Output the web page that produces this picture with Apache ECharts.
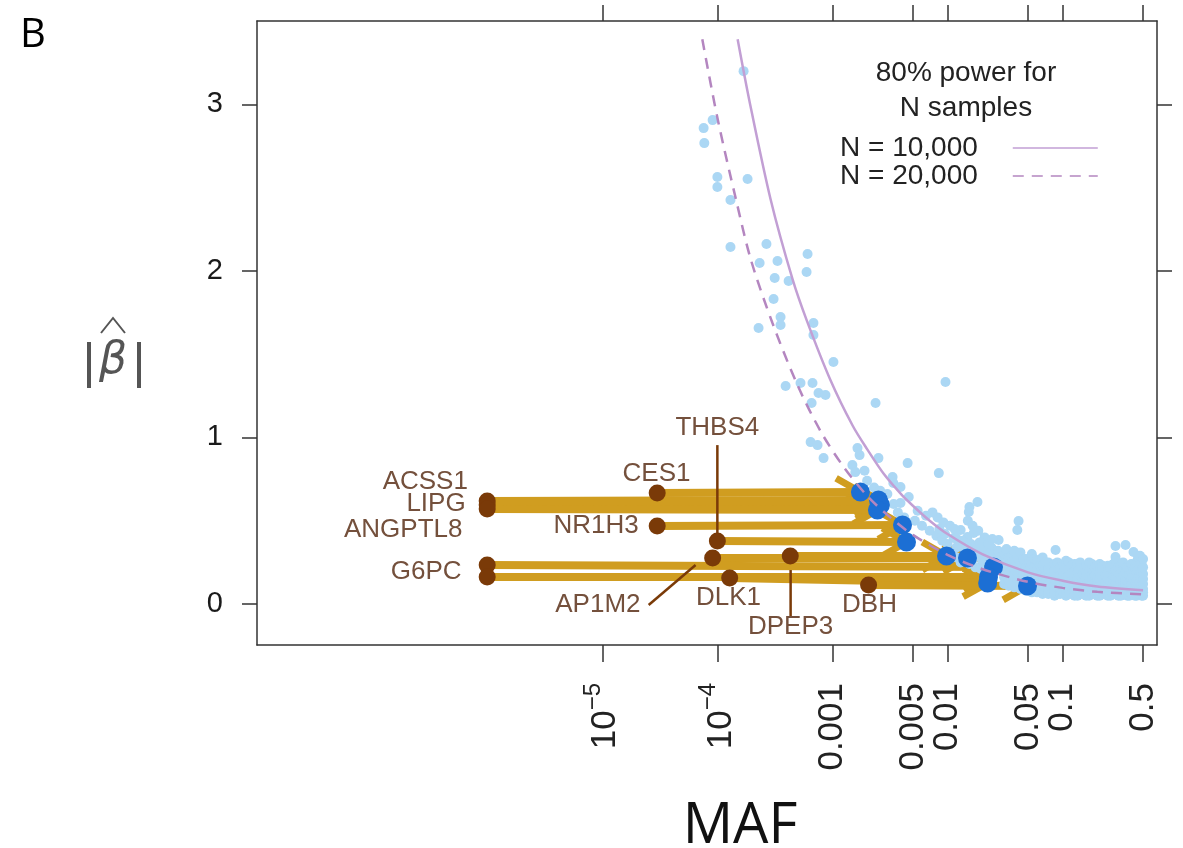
<!DOCTYPE html>
<html><head><meta charset="utf-8">
<script src="https://cdn.jsdelivr.net/npm/echarts@6/dist/echarts.min.js"></script>
<style>html,body{margin:0;padding:0;background:#fff}#c{width:1183px;height:848px}</style>
</head><body><div id="c"></div>
<script>
// ---------- axis ticks ----------
const xTickValues = [1e-5, 1e-4, 0.001, 0.005, 0.01, 0.05, 0.1, 0.5];
const xTickLabels = ['10^-5', '10^-4', '0.001', '0.005', '0.01', '0.05', '0.1', '0.5'];
const yTickValues = [0, 1, 2, 3];

// ---------- gene variants (start = brown, end = blue) ----------
const variantGene = ['CES1','ACSS1','LIPG','ANGPTL8','NR1H3','THBS4','AP1M2','DPEP3','G6PC','G6PC','DLK1','DBH'];
const startMAF  = [3.0e-5, 1e-6, 1e-6, 1e-6, 3.0e-5, 1.0e-4, 9.1e-5, 4.3e-4, 1e-6, 1e-6, 1.28e-4, 2.06e-3];
const startBeta = [0.666, 0.618, 0.594, 0.570, 0.468, 0.378, 0.276, 0.288, 0.234, 0.162, 0.156, 0.114];
const endMAF    = [1.75e-3, 2.51e-3, 2.61e-3, 2.46e-3, 4.06e-3, 4.4e-3, 0.0149, 9.8e-3, 0.0251, 0.0227, 0.0223, 0.0495];
const endBeta   = [0.672, 0.624, 0.594, 0.564, 0.474, 0.372, 0.276, 0.288, 0.222, 0.162, 0.126, 0.108];

// ---------- gene labels (anchor in data units) ----------
const labelText  = ['ACSS1','LIPG','ANGPTL8','G6PC','CES1','NR1H3','THBS4','AP1M2','DLK1','DPEP3','DBH'];
const labelMAF   = [6.8e-7, 6.5e-7, 6.1e-7, 6.0e-7, 2.96e-5, 2.07e-5, 1.0e-4, 2.15e-5, 1.25e-4, 4.33e-4, 2.1e-3];
const labelBeta  = [0.732, 0.600, 0.444, 0.192, 0.780, 0.468, 1.056, -0.006, 0.036, -0.138, -0.006];
const labelAlign = ['right','right','right','right','center','right','center','right','center','center','center'];

// ---------- leader lines [maf0, beta0, maf1, beta1] ----------
const leaderLines = [
  [1.0e-4, 0.954, 1.0e-4, 0.378],   // THBS4
  [4.33e-4, 0.204, 4.33e-4, -0.078], // DPEP3
  [2.53e-5, -0.006, 6.47e-5, 0.234]  // AP1M2
];

// ---------- 80% power curves ----------
const solidCurveMAF  = [1.5e-4, 1.9e-4, 2.9e-4, 4.5e-4, 6e-4, 9.6e-4, 1.5e-3, 2e-3, 2.8e-3, 4e-3, 5e-3, 7e-3, 0.01, 0.02, 0.05, 0.1, 0.2, 0.5];
const solidCurveBeta = [3.39, 3.02, 2.43, 1.95, 1.70, 1.345, 1.07, 0.93, 0.78, 0.655, 0.59, 0.50, 0.42, 0.30, 0.19, 0.14, 0.105, 0.083];
const dashedCurveMAF  = [7.4e-5, 1e-4, 1.45e-4, 1.95e-4, 3e-4, 5e-4, 8e-4, 1.26e-3, 2e-3, 3e-3, 5e-3, 0.01, 0.02, 0.05, 0.1, 0.2, 0.5];
const dashedCurveBeta = [3.39, 2.92, 2.43, 2.07, 1.69, 1.31, 1.03, 0.82, 0.65, 0.535, 0.415, 0.295, 0.21, 0.133, 0.097, 0.073, 0.058];

// ---------- background variants (light blue) ----------
const scatteredPoints = [
  [7.6e-5,2.857],[9.1e-5,2.905],[7.7e-5,2.767],[1.0e-4,2.563],[1.0e-4,2.503],[1.3e-4,2.425],[1.83e-4,2.551],
  [1.3e-4,2.143],[1.69e-4,3.199],[2.67e-4,2.161],[2.33e-4,2.047],[3.33e-4,2.059],[3.15e-4,1.957],[4.16e-4,1.939],
  [6.08e-4,2.101],[5.96e-4,1.993],[3.08e-4,1.831],[3.54e-4,1.723],[3.54e-4,1.675],[2.28e-4,1.657],[6.84e-4,1.687],
  [6.84e-4,1.615],[1.02e-3,1.453],[3.92e-4,1.309],[5.28e-4,1.327],[6.71e-4,1.327],[7.57e-4,1.267],[8.7e-4,1.255],
  [6.59e-4,1.207],[2.37e-3,1.207],[9.6e-3,1.333],[6.46e-4,0.972],[7.42e-4,0.954],[8.37e-4,0.876],[1.65e-3,0.936],
  [1.72e-3,0.894],[2.51e-3,0.876],[4.5e-3,0.846],[1.49e-3,0.834],[1.58e-3,0.792],[3.33e-3,0.762],[8.4e-3,0.786],
  [3.38e-3,0.726],[3.9e-3,0.702],[4.6e-3,0.642],[3.9e-3,0.606],[0.0182,0.612],[0.0155,0.582],[0.0153,0.552],
  [0.0414,0.498],[0.0404,0.444],[0.0278,0.384],[0.013,0.444],[0.0149,0.402],[0.0169,0.426],[0.0113,0.396],
  [0.0868,0.324],[0.288,0.348],[0.352,0.354],[0.413,0.312],[0.448,0.264],[0.288,0.282],
  [2.0e-3,0.74],[2.3e-3,0.70],[1.9e-3,0.80],[2.6e-3,0.68],[3.0e-3,0.66],[3.4e-3,0.60],[3.7e-3,0.55],[4.2e-3,0.52],
  [5.2e-3,0.50],[6.0e-3,0.47],[7.0e-3,0.44],[8.0e-3,0.41],[5.5e-3,0.56],[6.5e-3,0.53],[9.0e-3,0.38],[0.010,0.36],
  [0.0085,0.45],[0.012,0.34],[0.011,0.31],
  [0.0095,0.42],[0.0105,0.47],[0.0118,0.40],[0.0125,0.36],[0.0135,0.38],[0.014,0.33],[0.0145,0.30],[0.016,0.36],
  [0.0165,0.31],[0.017,0.28],[0.018,0.34],[0.019,0.30],[0.02,0.26],[0.021,0.33],[0.022,0.29],[0.023,0.25],
  [0.024,0.34],[0.025,0.30],[0.026,0.27],[0.0275,0.32],[0.029,0.28],[0.012,0.28],[0.013,0.25],[0.0155,0.24],
  [0.0175,0.22],[0.0195,0.21],[0.0215,0.19],[0.0235,0.2],[0.026,0.22],[0.028,0.24],[0.021,0.4],[0.0185,0.44],[0.015,0.5],
  [0.0165,0.47],[0.019,0.37],[0.0225,0.36],[0.0245,0.39],[0.0115,0.45],[0.0092,0.49],[0.0082,0.52],[0.0074,0.55]
];
const cloudColumns = [
  [0.031,[0.12,0.16,0.20,0.25,0.30]],
  [0.0325,[0.14,0.18,0.22,0.27,0.33]],
  [0.034,[0.11,0.14,0.18,0.23,0.28]],
  [0.036,[0.12,0.16,0.20,0.24,0.29]],
  [0.038,[0.10,0.13,0.17,0.21,0.26,0.32]],
  [0.0405,[0.11,0.15,0.19,0.23,0.28]],
  [0.043,[0.09,0.12,0.16,0.20,0.25,0.31]],
  [0.0455,[0.10,0.14,0.18,0.22,0.27]],
  [0.048,[0.08,0.11,0.14,0.18,0.22,0.27]],
  [0.051,[0.09,0.12,0.16,0.20,0.25]],
  [0.054,[0.07,0.09,0.12,0.15,0.19,0.24,0.30]],
  [0.057,[0.08,0.11,0.14,0.18,0.22,0.27]],
  [0.060,[0.07,0.10,0.13,0.17,0.21,0.26]],
  [0.0635,[0.08,0.11,0.15,0.19,0.23]],
  [0.067,[0.06,0.08,0.11,0.14,0.18,0.23,0.28]],
  [0.071,[0.07,0.10,0.13,0.17,0.21,0.25]],
  [0.075,[0.06,0.09,0.12,0.16,0.21,0.25]],
  [0.080,[0.07,0.10,0.14,0.18,0.22]],
  [0.085,[0.05,0.08,0.11,0.15,0.20,0.24]],
  [0.090,[0.06,0.10,0.13,0.17,0.21,0.25]],
  [0.095,[0.06,0.09,0.13,0.17,0.22]],
  [0.101,[0.07,0.10,0.14,0.19,0.23]],
  [0.107,[0.05,0.08,0.12,0.16,0.21,0.26]],
  [0.113,[0.06,0.09,0.13,0.17,0.21,0.25]],
  [0.120,[0.06,0.10,0.14,0.18,0.23]],
  [0.127,[0.05,0.08,0.12,0.16,0.20,0.24]],
  [0.135,[0.05,0.08,0.11,0.15,0.19,0.24]],
  [0.142,[0.06,0.10,0.13,0.17,0.21,0.25]],
  [0.150,[0.06,0.09,0.13,0.18,0.22]],
  [0.160,[0.05,0.08,0.11,0.15,0.19,0.23]],
  [0.170,[0.05,0.08,0.12,0.16,0.20,0.25]],
  [0.180,[0.06,0.09,0.13,0.17,0.21,0.24]],
  [0.190,[0.06,0.10,0.13,0.17,0.22]],
  [0.200,[0.05,0.08,0.12,0.15,0.19,0.23]],
  [0.210,[0.05,0.08,0.11,0.15,0.19,0.24]],
  [0.222,[0.06,0.09,0.12,0.16,0.20,0.23]],
  [0.235,[0.06,0.09,0.13,0.17,0.21]],
  [0.247,[0.05,0.08,0.11,0.15,0.19,0.23]],
  [0.260,[0.05,0.08,0.11,0.14,0.18,0.22]],
  [0.275,[0.06,0.09,0.13,0.17,0.21,0.24]],
  [0.290,[0.06,0.09,0.12,0.16,0.20,0.26]],
  [0.305,[0.05,0.08,0.11,0.15,0.19,0.22]],
  [0.320,[0.05,0.07,0.10,0.14,0.18,0.23]],
  [0.335,[0.06,0.09,0.12,0.16,0.20,0.25]],
  [0.350,[0.06,0.09,0.12,0.15,0.19]],
  [0.365,[0.05,0.08,0.11,0.14,0.18,0.22]],
  [0.380,[0.05,0.08,0.10,0.13,0.17,0.22]],
  [0.395,[0.06,0.09,0.12,0.15,0.19,0.24]],
  [0.410,[0.06,0.09,0.12,0.16,0.20]],
  [0.425,[0.05,0.08,0.11,0.14,0.18,0.22]],
  [0.440,[0.05,0.08,0.11,0.14,0.19,0.25]],
  [0.455,[0.06,0.09,0.12,0.16,0.20,0.28]],
  [0.470,[0.06,0.10,0.13,0.17,0.21,0.29]],
  [0.485,[0.05,0.08,0.11,0.15,0.19,0.24]],
  [0.500,[0.05,0.07,0.09,0.12,0.15,0.18,0.22,0.27]]
];

// ---------- build ----------
const L10 = Math.log10;
const GOLD = '#d09d20', BROWN = '#7a3a08', BLUE = '#1c6fd4', LIGHT = '#abd7f4', LABEL = '#74503c';
const FONT = '"Liberation Sans", Arial, sans-serif';

const bgData = scatteredPoints.map(p => [L10(p[0]), p[1]]);
cloudColumns.forEach(c => c[1].forEach(b => bgData.push([L10(c[0]), b])));

const arrowData = startMAF.map((m, i) => [L10(m), startBeta[i], L10(endMAF[i]), endBeta[i]]);
const startData = startMAF.map((m, i) => [L10(m), startBeta[i]]);
const endData = endMAF.map((m, i) => [L10(m), endBeta[i]]);
const labelData = labelMAF.map((m, i) => [L10(m), labelBeta[i], i]);
const leaderData = leaderLines.map(l => [L10(l[0]), l[1], L10(l[2]), l[3]]);
const solidData = solidCurveMAF.map((m, i) => [L10(m), solidCurveBeta[i]]);
const dashedData = dashedCurveMAF.map((m, i) => [L10(m), dashedCurveBeta[i]]);
const xTickLog = xTickValues.map(v => L10(v));

function xLabel(v) {
  const i = xTickLog.findIndex(t => Math.abs(t - v) < 1e-6);
  if (i < 0) return '';
  const s = xTickLabels[i];
  if (s.indexOf('^') >= 0) {
    const parts = s.split('^');
    return '{b|' + parts[0] + '}{s|' + parts[1].replace('-', '\u2212') + '}';
  }
  return '{p|' + s + '}';
}

const axisLineStyle = { color: '#333', width: 1.5 };
const chart = echarts.init(document.getElementById('c'), null, { renderer: 'canvas' });
chart.setOption({
  animation: false,
  backgroundColor: '#fff',
  grid: { left: 257, top: 21, width: 900, height: 624, containLabel: false, outerBoundsMode: 'none' },
  xAxis: [
    {
      type: 'value', position: 'bottom', min: -8, max: -0.18,
      axisLine: { show: true, onZero: false, lineStyle: axisLineStyle },
      axisTick: { show: true, length: 17, customValues: xTickLog, lineStyle: axisLineStyle },
      axisLabel: {
        show: true, customValues: xTickLog, rotate: 90, margin: 38, formatter: xLabel,
        color: '#222', fontFamily: FONT,
        rich: {
          p: { fontSize: 35, fontFamily: FONT, color: '#222', lineHeight: 42, verticalAlign: 'middle' },
          b: { fontSize: 35, fontFamily: FONT, color: '#222', lineHeight: 42, verticalAlign: 'bottom' },
          s: { fontSize: 24, fontFamily: FONT, color: '#222', lineHeight: 42, verticalAlign: 'top' }
        }
      },
      splitLine: { show: false }
    },
    {
      type: 'value', position: 'top', min: -8, max: -0.18,
      axisLine: { show: true, onZero: false, lineStyle: axisLineStyle },
      axisTick: { show: true, length: 16, customValues: xTickLog, lineStyle: axisLineStyle },
      axisLabel: { show: false },
      splitLine: { show: false }
    }
  ],
  yAxis: [
    {
      type: 'value', position: 'left', min: -0.246, max: 3.5,
      axisLine: { show: true, onZero: false, lineStyle: axisLineStyle },
      axisTick: { show: true, length: 15, customValues: yTickValues, lineStyle: axisLineStyle },
      axisLabel: { show: true, customValues: yTickValues, margin: 34, fontSize: 29, fontFamily: FONT, color: '#1a1a1a' },
      splitLine: { show: false }
    },
    {
      type: 'value', position: 'right', min: -0.246, max: 3.5,
      axisLine: { show: true, onZero: false, lineStyle: axisLineStyle },
      axisTick: { show: true, length: 15, customValues: yTickValues, lineStyle: axisLineStyle },
      axisLabel: { show: false },
      splitLine: { show: false }
    }
  ],
  legend: {
    show: true, selectedMode: false, orient: 'vertical', align: 'right',
    left: 835, top: 129, itemWidth: 85, itemHeight: 14, itemGap: 0,
    data: ['N = 10,000', 'N = 20,000'],
    textStyle: { fontSize: 28, fontFamily: FONT, color: '#222', lineHeight: 28, padding: [0, 30, 0, 0] },
    lineStyle: { width: 1.6 },
    itemStyle: { color: 'rgba(0,0,0,0)', borderWidth: 0, opacity: 0 }
  },
  graphic: [
    { type: 'text', left: 20, top: 16, style: { text: 'B', fontSize: 40, fontFamily: '"Open Sans", sans-serif', fill: '#000' } },
    { type: 'text', x: 966, y: 73, style: { text: '80% power for', fontSize: 28, fontFamily: FONT, fill: '#222', align: 'center', verticalAlign: 'middle' } },
    { type: 'text', x: 966, y: 108, style: { text: 'N samples', fontSize: 28, fontFamily: FONT, fill: '#222', align: 'center', verticalAlign: 'middle' } },
    { type: 'text', x: 740, y: 827, style: { text: 'MAF', fontSize: 56, fontFamily: '"Open Sans", sans-serif', fill: '#111', align: 'center', verticalAlign: 'middle' } },
    { type: 'text', x: 89, y: 364, style: { text: '|', fontSize: 50, fontFamily: FONT, fill: '#555', align: 'center', verticalAlign: 'middle' } },
    { type: 'text', x: 113, y: 362, style: { text: '\u03B2', fontSize: 44, fontStyle: 'italic', fontFamily: '"DejaVu Sans", sans-serif', fill: '#555', align: 'center', verticalAlign: 'middle' } },
    { type: 'text', x: 139, y: 364, style: { text: '|', fontSize: 50, fontFamily: FONT, fill: '#555', align: 'center', verticalAlign: 'middle' } },
    { type: 'polyline', shape: { points: [[101, 333], [113, 318], [125, 333]] }, style: { stroke: '#555', lineWidth: 2, fill: null } }
  ],
  series: [
    {
      name: 'background', type: 'scatter', data: bgData, symbol: 'circle', symbolSize: 10,
      itemStyle: { color: LIGHT, opacity: 1 }, silent: true
    },
    {
      name: 'arrows', type: 'custom', data: arrowData, encode: { x: [0, 2], y: [1, 3] }, silent: true,
      renderItem: function (params, api) {
        const p0 = api.coord([api.value(0), api.value(1)]);
        const p1 = api.coord([api.value(2), api.value(3)]);
        const ang = Math.atan2(p1[1] - p0[1], p1[0] - p0[0]);
        const L = 28, a = Math.PI / 6;
        const b1 = [p1[0] - L * Math.cos(ang - a), p1[1] - L * Math.sin(ang - a)];
        const b2 = [p1[0] - L * Math.cos(ang + a), p1[1] - L * Math.sin(ang + a)];
        return { type: 'group', children: [
          { type: 'line', shape: { x1: p0[0], y1: p0[1], x2: p1[0], y2: p1[1] }, style: { stroke: GOLD, lineWidth: 8 } },
          { type: 'polyline', shape: { points: [b1, p1, b2] }, style: { stroke: GOLD, lineWidth: 7, fill: null } }
        ] };
      }
    },
    {
      name: 'leaders', type: 'custom', data: leaderData, encode: { x: [0, 2], y: [1, 3] }, silent: true,
      renderItem: function (params, api) {
        const p0 = api.coord([api.value(0), api.value(1)]);
        const p1 = api.coord([api.value(2), api.value(3)]);
        return { type: 'line', shape: { x1: p0[0], y1: p0[1], x2: p1[0], y2: p1[1] }, style: { stroke: BROWN, lineWidth: 2.5 } };
      }
    },
    { name: 'start', type: 'scatter', data: startData, symbolSize: 17, itemStyle: { color: BROWN, opacity: 1 }, silent: true },
    { name: 'end', type: 'scatter', data: endData, symbolSize: 19, itemStyle: { color: BLUE, opacity: 1 }, silent: true },
    {
      name: 'N = 10,000', type: 'line', data: solidData, smooth: 0.3, symbol: 'none', showSymbol: false,
      lineStyle: { color: '#c29fd4', width: 2.5, type: 'solid' }, itemStyle: { color: '#c29fd4' }, silent: true
    },
    {
      name: 'N = 20,000', type: 'line', data: dashedData, smooth: 0.3, symbol: 'none', showSymbol: false,
      lineStyle: { color: '#b486c0', width: 2.5, type: [11, 8] }, itemStyle: { color: '#b486c0' }, silent: true
    },
    {
      name: 'labels', type: 'custom', data: labelData, encode: { x: 0, y: 1 }, silent: true,
      renderItem: function (params, api) {
        const p = api.coord([api.value(0), api.value(1)]);
        const i = api.value(2);
        return { type: 'text', x: p[0], y: p[1], style: {
          text: labelText[i], fill: LABEL, fontSize: 26, fontFamily: FONT,
          align: labelAlign[i], verticalAlign: 'middle'
        } };
      }
    }
  ]
});
</script></body></html>
